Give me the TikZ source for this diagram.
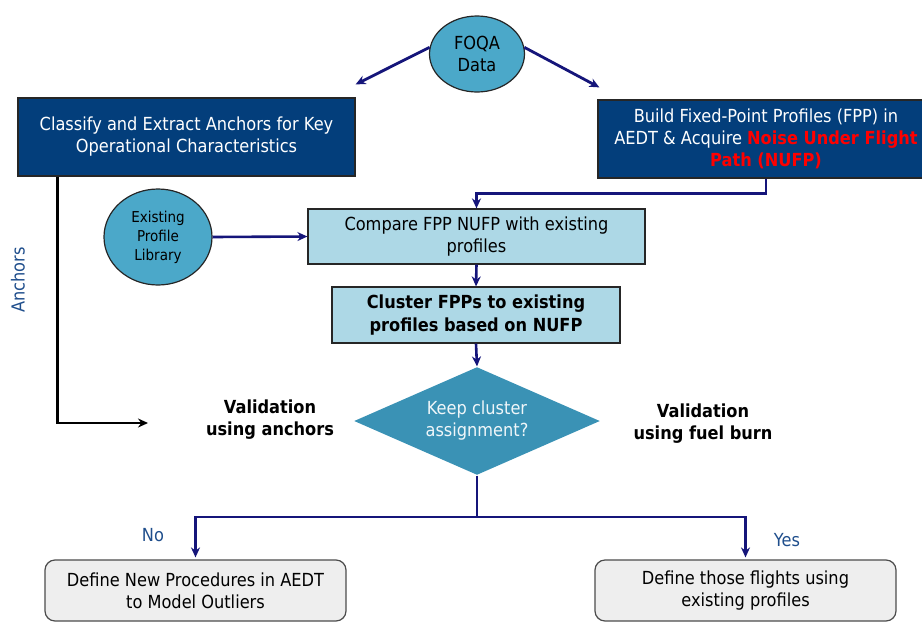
\documentclass[tikz,border=0pt]{standalone}
\usepackage{fontspec}
\setmainfont{DejaVu Sans}[FakeStretch=0.9]
\usepackage{xcolor}
\usepackage{tikz}
\usetikzlibrary{arrows.meta, positioning}
\usetikzlibrary{shapes.geometric}
\usetikzlibrary{calc}
\definecolor{darkbox}{HTML}{033E7B}
\definecolor{lightbox}{HTML}{ADD8E6}
\definecolor{ovalfill}{HTML}{4BA8C9}
\definecolor{decisionfill}{HTML}{3A92B5}
\definecolor{flowline}{HTML}{15157A}
\definecolor{labelblue}{HTML}{1F4E8C}
\definecolor{outcomefill}{HTML}{EEEEEE}

\begin{document}
\begin{tikzpicture}[x=1pt, y=-1pt, >={Stealth[length=10pt, width=9pt]}, font=\fontsize{18}{22}\selectfont]
            \useasboundingbox (0,0) rectangle (922,622);
            \clip (0,0) rectangle (922,622);
            \begin{scope}[every node/.style={draw=black!85, 
                line width=1.2pt, 
                align=center, 
                inner sep=0pt}]
                \node[fill=darkbox, text=white, minimum width=337pt, minimum height=78pt] at (186.5,137) (classify) {Classify and Extract Anchors for Key\\Operational Characteristics};
                \node[fill=darkbox, text=white, minimum width=336pt, minimum height=78pt] at (766,139) (build) {Build Fixed-Point Profiles (FPP) in\\AEDT \& Acquire {\bfseries\color{red}Noise Under Flight}\\{\bfseries\color{red}Path (NUFP)}};
                \node[fill=lightbox, minimum width=337pt, minimum height=55pt] at (476.5,236.5) (compare) {Compare FPP NUFP with existing\\profiles};
                \node[fill=lightbox, minimum width=288pt, minimum height=56pt, font=\fontsize{18}{23}\selectfont\bfseries] at (476,315) (cluster) {Cluster FPPs to existing\\profiles based on NUFP};
                \node[ellipse, fill=ovalfill, minimum width=95pt, minimum height=76pt] at (477,54) (foqa) {FOQA\\Data};
                \node[ellipse, fill=ovalfill, minimum width=108pt, minimum height=96pt, font=\fontsize{15}{19}\selectfont] at (158,237) (library) {Existing\\Profile\\Library};
                \node[diamond, aspect=2.28, draw=none, fill=decisionfill, text=white!92!decisionfill, minimum width=246pt, minimum height=108pt] at (477,421) (keep) {Keep cluster\\assignment?};
                \node[rounded corners=10pt, draw=black!70, fill=outcomefill, minimum width=301pt, minimum height=61pt] at (195.5,590.5) (outliers) {Define New Procedures in AEDT\\to Model Outliers};
                \node[rounded corners=10pt, draw=black!70, fill=outcomefill, minimum width=301pt, minimum height=61pt] at (745.5,590.5) (existing) {Define those flights using\\existing profiles};
            \end{scope}
            \node[align=center, font=\fontsize{18}{22}\selectfont\bfseries] at (270,420) (valanchors) {Validation\\using anchors};
            \node[align=center, font=\fontsize{18}{22}\selectfont\bfseries] at (703,424) (valfuel) {Validation\\using fuel burn};
            \node[rotate=90, text=labelblue] at (18,280) (anchorslabel) {Anchors};
            \node[text=labelblue] at (153,535) (nolabel) {No};
            \node[text=labelblue] at (787,540) (yeslabel) {Yes};
            \coordinate (anchorend) at (148,423);
            \coordinate (split) at (477,517);
            \draw[flowline, line width=2.8pt, ->] (foqa.172) -- ([yshift=13pt]classify.north east);
            \draw[flowline, line width=2.8pt, ->] (foqa.8) -- ([xshift=2pt, yshift=12pt]build.north west);
            \draw[flowline, line width=2.6pt, ->] (build.south) -- ++(0,15) -| (compare.north);
            \draw[flowline, line width=2.6pt, ->] (library.east) -- (compare.west);
            \draw[flowline, line width=2.6pt, ->] (compare.south) -- (cluster.north);
            \draw[flowline, line width=2.6pt, ->] (cluster.south) -- (keep.north);
            \draw[black, line width=2.8pt, ->] ([xshift=40pt]classify.south west) |- (anchorend);
            \draw[flowline, line width=2.6pt] (keep.south) -- (split);
            \draw[flowline, line width=2.6pt, ->, shorten >=2pt] (split) -| (outliers.north);
            \draw[flowline, line width=2.6pt, ->, shorten >=2pt] (split) -| (existing.north);
        \end{tikzpicture}
\end{document}
